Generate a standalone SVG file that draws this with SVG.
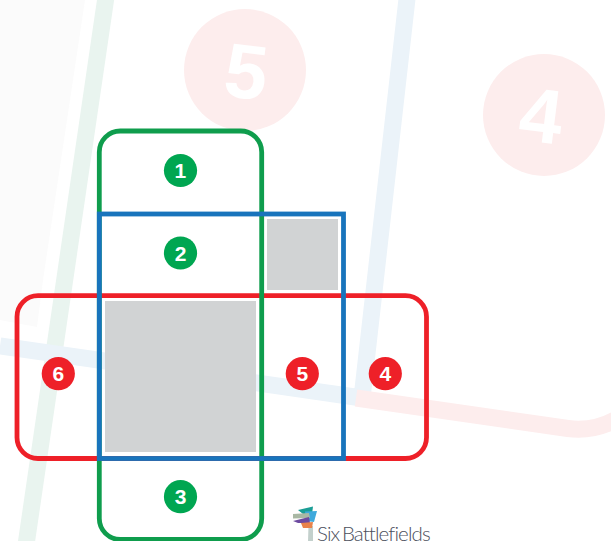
<svg xmlns="http://www.w3.org/2000/svg" width="611" height="541" viewBox="0 0 611 541">
<style>
.band{fill:none;stroke-width:17}
.frame{fill:none;stroke-width:4.800}
.green{stroke:#0f9d4d}.red{stroke:#ee2028}.blue{stroke:#1874bc}
.grey{fill:#d1d3d4}
.n{font-family:"Liberation Sans",Arial,sans-serif;font-weight:700;font-size:21px;fill:#fff;text-anchor:middle}
.g{fill:#00a651}.r{fill:#ee2028}
.wm{fill:#fdeded}
.wt{font-family:"Liberation Sans",Arial,sans-serif;font-weight:700;font-size:77px;fill:#fff;text-anchor:middle}
</style>
<rect width="611" height="541" fill="#fff"/>
<g id="background">
<path d="M0,0H85L43,280 37,327 0,320Z" fill="#fbfbfb"/>
<path class="band" d="M107,-10L26,545" stroke="#e9f4ef"/>
<path class="band" d="M0,346L362,398L408,-10" stroke="#ebf3f9"/>
<path class="band" d="M356,398L568,428.500Q596,432 620,417" stroke="#fdeded"/>
<circle class="wm" cx="245" cy="70" r="61"/>
<text class="wt" transform="translate(243,98) rotate(7)">5</text>
<circle class="wm" cx="544" cy="115" r="61"/>
<text class="wt" transform="translate(538,142) rotate(7)">4</text>
</g>
<rect class="grey" x="105" y="301" width="151" height="151"/>
<rect class="grey" x="267" y="219" width="71" height="71"/>
<g id="connectors">
<rect class="frame red" x="17" y="295.700" width="409.500" height="162.800" rx="21"/>
<rect class="frame green" x="99.300" y="131" width="162.400" height="408.500" rx="21"/>
<rect class="frame blue" x="99.300" y="214" width="244.200" height="244.500"/>
</g>
<g id="node-1"><circle class="g" cx="180.500" cy="170.500" r="16.600"/><text class="n" x="180.300" y="178">1</text></g>
<g id="node-2"><circle class="g" cx="180.500" cy="253" r="16.600"/><text class="n" x="180.500" y="260.500">2</text></g>
<g id="node-3"><circle class="g" cx="180.500" cy="496.700" r="16.600"/><text class="n" x="180.500" y="504.200">3</text></g>
<g id="node-6"><circle class="r" cx="58.300" cy="373.700" r="16.600"/><text class="n" x="58.300" y="381.200">6</text></g>
<g id="node-5"><circle class="r" cx="302.300" cy="373.700" r="16.600"/><text class="n" x="302.300" y="381.200">5</text></g>
<g id="node-4"><circle class="r" cx="385.300" cy="373.700" r="16.600"/><text class="n" x="385.300" y="381.200">4</text></g>
<g id="logo">
<path d="M308,541L308.500,526H313L313,541Z" fill="#c3d0cc"/>
<path d="M298,510L313,506.500L312,514L303,514Z" fill="#1b9e96"/>
<path d="M305,511.500L317,511L314,522L306,521Z" fill="#3fa9dc"/>
<path d="M293,514L309,513L310,518L293,518.500Z" fill="#a9b8a4"/>
<path d="M293,521L309,517L310,523L298,523Z" fill="#6d4aa0"/>
<path d="M301,523L313,522L312,528L303,528Z" fill="#e9824a"/>
<text x="317" y="541" font-family="Lato,'Liberation Sans',sans-serif" font-weight="300" font-size="20.500" letter-spacing="-0.9" word-spacing="-2" fill="#4b4f5c">Six Battlefields</text>
</g>
</svg>
